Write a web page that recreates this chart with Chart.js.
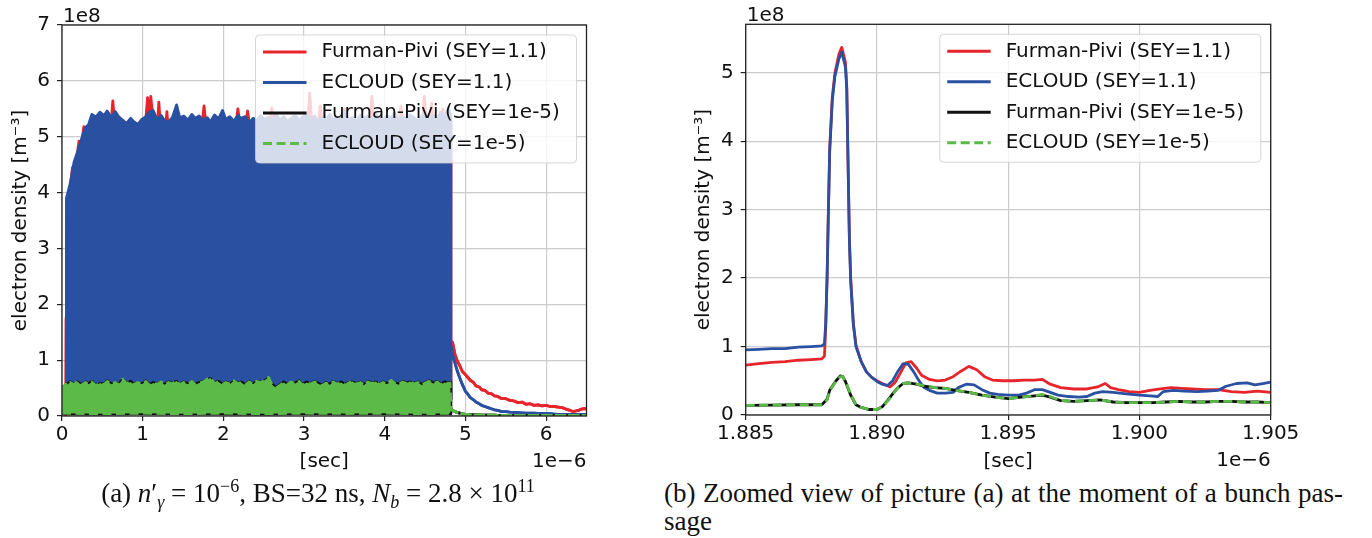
<!DOCTYPE html>
<html>
<head>
<meta charset="utf-8">
<script src="https://cdn.jsdelivr.net/npm/chart.js"></script>
<style>
  body { margin: 0; background: #fff; }
  #wrap { position: relative; width: 1372px; height: 538px; overflow: hidden; }
  canvas { position: absolute; top: 0; }
  .cap { position: absolute; font-family: "Liberation Serif", serif; font-size: 27px; line-height: 28px; color: #111; }
  .cap i { font-style: italic; }
  .cap sup, .cap sub { font-size: 18px; line-height: 0; }
</style>
</head>
<body>
<div id="wrap">
  <canvas id="chartA" width="660" height="478" style="left:0;width:660px;height:478px"></canvas>
  <canvas id="chartB" width="692" height="478" style="left:680px;width:692px;height:478px"></canvas>
  <div class="cap" style="left:8px;top:479px;width:620px;text-align:center">(a) <i>n</i>′<sub><i>γ</i></sub> = 10<sup>−6</sup>, BS=32 ns, <i>N<sub>b</sub></i> = 2.8 × 10<sup>11</sup></div>
  <div class="cap" style="left:664px;top:479px;width:679px">
    <div style="text-align:justify;text-align-last:justify">(b) Zoomed view of picture (a) at the moment of a bunch pas-</div>
    <div>sage</div>
  </div>
</div>
<script>
// ---- (a) whole bunch train: x in 1e-6 s, y in 1e8 m^-3 ----
// the signal oscillates faster than a pixel, so it is kept as upper/lower envelopes
const tBand = [
  0.00, 0.02, 0.05, 0.055, 0.10, 0.15, 0.19, 0.24, 0.29, 0.33,
  0.37, 0.42, 0.47, 0.52, 0.56, 0.61, 0.66, 0.70, 0.75, 0.80,
  0.85, 0.89, 0.94, 0.99, 1.04, 1.08, 1.13, 1.18, 1.23, 1.27,
  1.32, 1.37, 1.42, 1.46, 1.51, 1.56, 1.61, 1.65, 1.70, 1.75,
  1.80, 1.84, 1.89, 1.94, 1.99, 2.03, 2.08, 2.13, 2.18, 2.22,
  2.27, 2.32, 2.37, 2.41, 2.46, 2.51, 2.56, 2.60, 2.65, 2.70,
  2.75, 2.79, 2.84, 2.89, 2.94, 2.98, 3.03, 3.08, 3.13, 3.17,
  3.22, 3.27, 3.32, 3.36, 3.41, 3.46, 3.51, 3.55, 3.60, 3.65,
  3.70, 3.74, 3.79, 3.84, 3.89, 3.93, 3.98, 4.03, 4.08, 4.12,
  4.17, 4.22, 4.27, 4.31, 4.36, 4.41, 4.46, 4.50, 4.55, 4.60,
  4.65, 4.69, 4.74, 4.79, 4.81
];
const ecHiA = [
  0.30, 0.30, 0.30, 3.90, 4.15, 4.55, 4.72, 4.95, 5.16, 5.22,
  5.40, 5.35, 5.44, 5.38, 5.46, 5.34, 5.45, 5.36, 5.30, 5.24,
  5.33, 5.27, 5.22, 5.31, 5.36, 5.44, 5.47, 5.30, 5.38, 5.29,
  5.26, 5.35, 5.57, 5.34, 5.37, 5.30, 5.40, 5.33, 5.37, 5.29,
  5.34, 5.27, 5.39, 5.32, 5.47, 5.31, 5.36, 5.28, 5.38, 5.33,
  5.36, 5.25, 5.33, 5.28, 5.38, 5.31, 5.35, 5.27, 5.41, 5.30,
  5.36, 5.28, 5.33, 5.38, 5.29, 5.35, 5.42, 5.30, 5.37, 5.27,
  5.34, 5.31, 5.40, 5.29, 5.36, 5.32, 5.45, 5.30, 5.35, 5.28,
  5.39, 5.33, 5.37, 5.29, 5.41, 5.34, 5.30, 5.38, 5.32, 5.43,
  5.29, 5.36, 5.31, 5.39, 5.34, 5.28, 5.37, 5.42, 5.33, 5.38,
  5.30, 5.44, 5.35, 5.52, 5.40
];
const ec5HiA = [
  0.45, 0.52, 0.57, 0.55, 0.60, 0.56, 0.62, 0.55, 0.60, 0.57,
  0.61, 0.54, 0.59, 0.56, 0.62, 0.57, 0.60, 0.55, 0.66, 0.58,
  0.61, 0.56, 0.60, 0.57, 0.62, 0.55, 0.59, 0.57, 0.61, 0.56,
  0.60, 0.58, 0.63, 0.56, 0.60, 0.57, 0.62, 0.56, 0.59, 0.61,
  0.66, 0.68, 0.58, 0.61, 0.56, 0.60, 0.57, 0.63, 0.58, 0.60,
  0.55, 0.61, 0.57, 0.62, 0.60, 0.64, 0.69, 0.57, 0.50, 0.55,
  0.60, 0.56, 0.61, 0.58, 0.62, 0.55, 0.60, 0.57, 0.61, 0.58,
  0.54, 0.59, 0.56, 0.61, 0.57, 0.60, 0.55, 0.59, 0.62, 0.57,
  0.60, 0.55, 0.61, 0.58, 0.62, 0.56, 0.60, 0.57, 0.64, 0.59,
  0.56, 0.61, 0.58, 0.62, 0.57, 0.60, 0.55, 0.59, 0.62, 0.58,
  0.61, 0.56, 0.60, 0.58, 0.59
];
const fp5HiA = [
  0.46, 0.53, 0.56, 0.57, 0.61, 0.57, 0.61, 0.56, 0.61, 0.58,
  0.62, 0.55, 0.58, 0.57, 0.63, 0.58, 0.59, 0.56, 0.65, 0.59,
  0.62, 0.57, 0.59, 0.58, 0.63, 0.56, 0.60, 0.58, 0.60, 0.57,
  0.61, 0.59, 0.62, 0.57, 0.61, 0.58, 0.61, 0.57, 0.60, 0.62,
  0.65, 0.67, 0.59, 0.62, 0.57, 0.61, 0.58, 0.62, 0.59, 0.61,
  0.56, 0.62, 0.58, 0.61, 0.61, 0.63, 0.68, 0.58, 0.51, 0.56,
  0.61, 0.57, 0.60, 0.59, 0.63, 0.56, 0.61, 0.58, 0.62, 0.59,
  0.55, 0.60, 0.57, 0.62, 0.58, 0.61, 0.56, 0.60, 0.61, 0.58,
  0.61, 0.56, 0.62, 0.59, 0.61, 0.57, 0.61, 0.58, 0.63, 0.60,
  0.57, 0.62, 0.59, 0.61, 0.58, 0.61, 0.56, 0.60, 0.63, 0.59,
  0.62, 0.57, 0.61, 0.59, 0.60
];
// Furman-Pivi SEY=1.1 upper envelope (only its peaks show above ECLOUD)
const tRedA = [
  0.045, 0.05, 0.055, 0.065, 0.10, 0.13, 0.17, 0.21, 0.24, 0.27,
  0.30, 0.60, 0.63, 0.66, 1.03, 1.06, 1.08, 1.10, 1.13, 1.18,
  1.20, 1.22, 1.28, 1.30, 1.32, 1.73, 1.76, 1.79, 2.15, 2.18,
  2.21, 2.27, 2.30, 2.33, 2.57, 2.60, 2.63, 3.04, 3.07, 3.10,
  3.17, 3.20, 3.23, 3.47, 3.50, 3.53, 3.81, 3.84, 3.87, 4.17,
  4.20, 4.23, 4.46, 4.49, 4.52, 4.55, 4.58, 4.61, 4.69, 4.72,
  4.75, 4.81
];
const fpHiA = [
  0.00, 1.75, 2.95, 3.85, 4.05, 4.45, 4.45, 4.92, 4.85, 5.18,
  5.05, 5.10, 5.64, 5.12, 5.15, 5.70, 5.40, 5.72, 5.30, 5.15,
  5.62, 5.20, 5.10, 5.45, 5.10, 5.15, 5.55, 5.15, 5.15, 5.50,
  5.15, 5.15, 5.46, 5.15, 5.15, 5.52, 5.15, 5.15, 5.78, 5.15,
  5.15, 5.55, 5.15, 5.15, 5.50, 5.15, 5.15, 5.72, 5.15, 5.15,
  5.55, 5.15, 5.15, 5.72, 5.15, 5.15, 5.60, 5.15, 5.15, 5.50,
  5.15, 5.30
];
// lower envelopes (minima between bunches)
const tLowA = [0.00, 0.50, 1.00, 1.50, 2.00, 2.50, 3.00, 3.50, 4.00, 4.50, 4.81];
const fpLoA  = [0.30, 0.31, 0.29, 0.30, 0.32, 0.30, 0.29, 0.31, 0.30, 0.30, 0.31];
const ecLoA  = [0.30, 0.29, 0.31, 0.30, 0.30, 0.31, 0.30, 0.29, 0.31, 0.30, 0.30];
const fp5LoA = [0.04, 0.035, 0.045, 0.04, 0.04, 0.035, 0.045, 0.04, 0.045, 0.035, 0.04];
const ec5LoA = [0.05, 0.04, 0.05, 0.04, 0.05, 0.04, 0.05, 0.045, 0.05, 0.04, 0.05];
// decay after the last bunch
const tTail = [
  4.82, 4.84, 4.87, 4.90, 4.93, 4.96, 5.00, 5.03, 5.06, 5.10,
  5.13, 5.17, 5.20, 5.24, 5.28, 5.32, 5.36, 5.40, 5.45, 5.50,
  5.55, 5.60, 5.65, 5.70, 5.75, 5.80, 5.85, 5.90, 5.95, 6.00,
  6.05, 6.10, 6.15, 6.20, 6.25, 6.30, 6.33, 6.37, 6.40, 6.43,
  6.46, 6.50
];
const fpTail = [
  1.28, 1.32, 1.10, 0.98, 0.90, 0.80, 0.74, 0.69, 0.64, 0.60,
  0.54, 0.52, 0.47, 0.46, 0.41, 0.40, 0.36, 0.35, 0.31, 0.31,
  0.28, 0.27, 0.24, 0.25, 0.21, 0.22, 0.19, 0.20, 0.18, 0.19,
  0.17, 0.17, 0.16, 0.15, 0.12, 0.10, 0.08, 0.09, 0.10, 0.12,
  0.13, 0.13
];
const ecTail = [
  1.25, 1.10, 0.95, 0.80, 0.68, 0.57, 0.44, 0.39, 0.33, 0.29,
  0.25, 0.22, 0.19, 0.17, 0.15, 0.13, 0.11, 0.10, 0.08, 0.08,
  0.07, 0.065, 0.06, 0.055, 0.05, 0.05, 0.05, 0.045, 0.045, 0.04,
  0.04, 0.035, 0.03, 0.03, 0.03, 0.03, 0.03, 0.03, 0.03, 0.03,
  0.03, 0.03
];
const fp5Tail = [
  0.13, 0.10, 0.08, 0.06, 0.05, 0.04, 0.03, 0.03, 0.02, 0.02,
  0.02, 0.02, 0.015, 0.015, 0.015, 0.015, 0.015, 0.01, 0.01, 0.01,
  0.01, 0.01, 0.01, 0.01, 0.01, 0.01, 0.01, 0.01, 0.01, 0.01,
  0.01, 0.01, 0.01, 0.01, 0.01, 0.01, 0.01, 0.01, 0.01, 0.01,
  0.01, 0.01
];
const ec5Tail = [
  0.12, 0.10, 0.08, 0.06, 0.05, 0.04, 0.03, 0.03, 0.02, 0.02,
  0.02, 0.02, 0.015, 0.015, 0.015, 0.015, 0.015, 0.01, 0.01, 0.01,
  0.01, 0.01, 0.01, 0.01, 0.01, 0.01, 0.01, 0.01, 0.01, 0.01,
  0.01, 0.01, 0.01, 0.01, 0.01, 0.01, 0.01, 0.01, 0.01, 0.01,
  0.01, 0.01
];

// ---- (b) zoom on one bunch passage ----
const tFpB = [
  1.8850, 1.8855, 1.8860, 1.8865, 1.8870, 1.8875, 1.8879, 1.8880, 1.88805, 1.8881,
  1.88815, 1.8882, 1.8883, 1.8884, 1.88855, 1.88866, 1.8888, 1.88885, 1.8889, 1.88895,
  1.8890, 1.8891, 1.8892, 1.8894, 1.8896, 1.8898, 1.8900, 1.8902, 1.8904, 1.8905,
  1.8907, 1.8909, 1.8911, 1.8913, 1.8915, 1.8917, 1.8920, 1.8923, 1.8926, 1.8929,
  1.8932, 1.8935, 1.8938, 1.8941, 1.8944, 1.8948, 1.8952, 1.8956, 1.8960, 1.8963,
  1.8966, 1.8970, 1.8975, 1.8980, 1.8984, 1.8987, 1.8989, 1.8992, 1.8996, 1.9000,
  1.9004, 1.9008, 1.9012, 1.9016, 1.9020, 1.9025, 1.9030, 1.9035, 1.9040, 1.9045,
  1.9050
];
const fpB = [
  0.73, 0.75, 0.77, 0.78, 0.80, 0.81, 0.82, 0.86, 1.30, 2.00,
  3.00, 3.90, 4.65, 5.00, 5.27, 5.37, 5.15, 4.80, 3.70, 2.60,
  2.00, 1.35, 1.02, 0.78, 0.63, 0.55, 0.50, 0.46, 0.43, 0.41,
  0.48, 0.62, 0.76, 0.78, 0.69, 0.58, 0.52, 0.50, 0.51, 0.56,
  0.64, 0.71, 0.66, 0.56, 0.51, 0.50, 0.50, 0.51, 0.51, 0.52,
  0.45, 0.40, 0.38, 0.38, 0.41, 0.46, 0.40, 0.37, 0.34, 0.33,
  0.36, 0.38, 0.40, 0.39, 0.38, 0.37, 0.37, 0.34, 0.33, 0.35,
  0.33
];
const tEcB = [
  1.8850, 1.8855, 1.8860, 1.8865, 1.8870, 1.8875, 1.8879, 1.8880, 1.88805, 1.8881,
  1.88815, 1.8882, 1.8883, 1.8884, 1.88855, 1.88866, 1.8888, 1.88885, 1.8889, 1.88895,
  1.8890, 1.8891, 1.8892, 1.8894, 1.8896, 1.8898, 1.8900, 1.8902, 1.8904, 1.8906,
  1.8908, 1.8910, 1.8912, 1.8914, 1.8916, 1.8918, 1.8920, 1.8923, 1.8926, 1.8929,
  1.8931, 1.8934, 1.8937, 1.8940, 1.8943, 1.8946, 1.8950, 1.8954, 1.8957, 1.8960,
  1.8963, 1.8966, 1.8969, 1.8973, 1.8977, 1.8980, 1.8983, 1.8986, 1.8990, 1.8995,
  1.9000, 1.9004, 1.9007, 1.9009, 1.9013, 1.9017, 1.9022, 1.9026, 1.9030, 1.9033,
  1.9037, 1.9041, 1.9044, 1.9047, 1.9050
];
const ecB = [
  0.95, 0.96, 0.97, 0.97, 0.99, 1.00, 1.01, 1.04, 1.35, 2.00,
  2.95, 3.85, 4.60, 4.95, 5.20, 5.30, 5.08, 4.75, 3.65, 2.55,
  1.95, 1.32, 1.00, 0.78, 0.63, 0.55, 0.49, 0.45, 0.43, 0.50,
  0.64, 0.75, 0.74, 0.63, 0.50, 0.40, 0.36, 0.32, 0.32, 0.33,
  0.40, 0.45, 0.44, 0.37, 0.32, 0.30, 0.29, 0.29, 0.32, 0.37,
  0.37, 0.33, 0.29, 0.27, 0.26, 0.27, 0.32, 0.34, 0.33, 0.31,
  0.29, 0.28, 0.27, 0.34, 0.36, 0.35, 0.34, 0.35, 0.36, 0.42,
  0.46, 0.47, 0.44, 0.46, 0.48
];
const t5B = [
  1.8850, 1.8860, 1.8870, 1.8879, 1.8881, 1.8882, 1.8884, 1.8886, 1.8887, 1.8888,
  1.8890, 1.8892, 1.8894, 1.8897, 1.8900, 1.8902, 1.8904, 1.8906, 1.8908, 1.8910,
  1.8912, 1.8915, 1.8918, 1.8922, 1.8926, 1.8930, 1.8935, 1.8940, 1.8945, 1.8950,
  1.8955, 1.8960, 1.8963, 1.8966, 1.8970, 1.8975, 1.8980, 1.8985, 1.8990, 1.8995,
  1.9000, 1.9005, 1.9010, 1.9015, 1.9020, 1.9025, 1.9030, 1.9035, 1.9040, 1.9045,
  1.9050
];
const fp5B = [
  0.14, 0.145, 0.15, 0.15, 0.23, 0.36, 0.48, 0.57, 0.56, 0.49,
  0.29, 0.15, 0.11, 0.08, 0.08, 0.12, 0.21, 0.31, 0.40, 0.46,
  0.47, 0.45, 0.42, 0.40, 0.39, 0.36, 0.33, 0.29, 0.26, 0.24,
  0.26, 0.28, 0.29, 0.26, 0.21, 0.20, 0.21, 0.22, 0.19, 0.18,
  0.18, 0.18, 0.19, 0.20, 0.19, 0.19, 0.20, 0.20, 0.19, 0.19,
  0.18
];
const ec5B = [
  0.14, 0.145, 0.15, 0.15, 0.22, 0.35, 0.47, 0.56, 0.56, 0.50,
  0.30, 0.15, 0.11, 0.08, 0.08, 0.12, 0.20, 0.30, 0.40, 0.46,
  0.47, 0.45, 0.43, 0.40, 0.39, 0.36, 0.33, 0.29, 0.26, 0.24,
  0.26, 0.28, 0.30, 0.27, 0.21, 0.20, 0.21, 0.22, 0.19, 0.18,
  0.18, 0.18, 0.19, 0.20, 0.19, 0.19, 0.20, 0.20, 0.19, 0.19,
  0.18
];

const xTicksA = [0, 1, 2, 3, 4, 5, 6];
const yTicksA = [0, 1, 2, 3, 4, 5, 6, 7];
const xTicksB = [1.885, 1.890, 1.895, 1.900, 1.905];
const yTicksB = [0, 1, 2, 3, 4, 5];
const seriesNames = ['Furman-Pivi (SEY=1.1)', 'ECLOUD (SEY=1.1)', 'Furman-Pivi (SEY=1e-5)', 'ECLOUD (SEY=1e-5)'];

// styles
const RED = '#e8242b', BLUE = '#2a50a2', BLACK = '#111111', GREEN = '#5cbb48';
const DASH = [9, 4.5];
const FONT = '"DejaVu Sans", sans-serif';
const legendItems = [
  { text: seriesNames[0], color: RED },
  { text: seriesNames[1], color: BLUE },
  { text: seriesNames[2], color: BLACK },
  { text: seriesNames[3], color: GREEN, dash: DASH }
];

const xy = (xs, ys) => xs.map((x, i) => ({ x: x, y: ys[i] }));

// frame, offset texts (1e8, 1e-6) and a matplotlib-like legend inside the axes
const mplDecor = {
  id: 'mplDecor',
  afterDatasetsDraw(chart, args, o) {
    const { ctx, chartArea: a } = chart;
    ctx.save();
    ctx.strokeStyle = '#222';
    ctx.lineWidth = 1.3;
    ctx.strokeRect(a.left, a.top, a.right - a.left, a.bottom - a.top);

    ctx.fillStyle = '#111';
    ctx.font = '20px ' + FONT;
    ctx.textBaseline = 'alphabetic';
    ctx.textAlign = 'left';
    ctx.fillText('1e8', a.left + 1, a.top - 3.5);
    ctx.textAlign = 'right';
    ctx.fillText('1e\u22126', a.right, a.bottom + 51);

    const bw = 321, bh = 128, r = 4;
    const bx = a.right - 10 - bw, by = a.top + 10;
    ctx.beginPath();
    ctx.moveTo(bx + r, by);
    ctx.arcTo(bx + bw, by, bx + bw, by + bh, r);
    ctx.arcTo(bx + bw, by + bh, bx, by + bh, r);
    ctx.arcTo(bx, by + bh, bx, by, r);
    ctx.arcTo(bx, by, bx + bw, by, r);
    ctx.closePath();
    ctx.fillStyle = 'rgba(255,255,255,0.8)';
    ctx.fill();
    ctx.strokeStyle = 'rgba(204,204,204,0.8)';
    ctx.lineWidth = 1;
    ctx.stroke();

    o.items.forEach((it, i) => {
      const y = by + 17 + i * 30.5;
      ctx.beginPath();
      ctx.setLineDash(it.dash || []);
      ctx.strokeStyle = it.color;
      ctx.lineWidth = 3;
      ctx.moveTo(bx + 7.5, y);
      ctx.lineTo(bx + 51, y);
      ctx.stroke();
      ctx.setLineDash([]);
      ctx.fillStyle = '#111';
      ctx.textAlign = 'left';
      ctx.textBaseline = 'middle';
      ctx.fillText(it.text, bx + 66, y);
    });
    ctx.restore();
  }
};

function scales(xMin, xMax, yMax, xTicks, yTicks, yWidth, xHeight, yTitlePad, fmt) {
  const grid = { color: '#cccccc', lineWidth: 1.2, tickLength: 5, tickColor: '#222', tickWidth: 1.2 };
  const tickFont = { family: FONT, size: 20 };
  return {
    x: {
      type: 'linear', min: xMin, max: xMax,
      grid: grid, border: { display: false },
      afterBuildTicks: s => { s.ticks = xTicks.map(v => ({ value: v })); },
      afterFit: s => { s.height = xHeight; },
      ticks: { font: tickFont, color: '#111', padding: 2, maxRotation: 0, autoSkip: false, callback: fmt },
      title: { display: true, text: '[sec]', font: tickFont, color: '#111', padding: { top: 0, bottom: 4 } }
    },
    y: {
      min: 0, max: yMax,
      grid: grid, border: { display: false },
      afterBuildTicks: s => { s.ticks = yTicks.map(v => ({ value: v })); },
      afterFit: s => { s.width = yWidth; },
      ticks: { font: tickFont, color: '#111', padding: 7, callback: v => String(v) },
      title: { display: true, text: 'electron density [m\u207B\u00B3]', font: tickFont, color: '#111', padding: { top: yTitlePad, bottom: 0 } }
    }
  };
}

const baseOptions = {
  responsive: false,
  animation: false,
  events: [],
  elements: {
    point: { radius: 0 },
    line: { borderWidth: 2.8, tension: 0, borderJoinStyle: 'round', borderCapStyle: 'butt' }
  }
};

// a band = upper envelope filled down to the lower envelope, both ending in the same decay curve
function band(hiX, hiY, loX, loY, tailY, color, order, dash) {
  return [
    { data: xy(hiX, hiY).concat(xy(tTail, tailY)), borderColor: color, backgroundColor: color,
      fill: '+1', order: order, borderDash: dash || [] },
    { data: xy(loX, loY).concat(xy(tTail, tailY)), borderColor: color, backgroundColor: color,
      fill: false, order: order, borderDash: dash || [] }
  ];
}

new Chart(document.getElementById('chartA'), {
  type: 'line',
  data: {
    datasets: [
      ...band(tBand, ec5HiA, tLowA, ec5LoA, ec5Tail, GREEN, 0, DASH),
      ...band(tBand, fp5HiA, tLowA, fp5LoA, fp5Tail, BLACK, 1),
      ...band(tBand, ecHiA, tLowA, ecLoA, ecTail, BLUE, 2),
      ...band(tRedA, fpHiA, tLowA, fpLoA, fpTail, RED, 3)
    ]
  },
  options: Object.assign({}, baseOptions, {
    layout: { padding: { left: 0, top: 25, right: 73.5, bottom: 0 } },
    scales: scales(0, 6.5, 7, xTicksA, yTicksA, 62, 62, 9, v => String(v)),
    plugins: { legend: { display: false }, tooltip: { enabled: false }, mplDecor: { items: legendItems } }
  }),
  plugins: [mplDecor]
});

new Chart(document.getElementById('chartB'), {
  type: 'line',
  data: {
    datasets: [
      { data: xy(t5B, ec5B), borderColor: GREEN, borderDash: DASH, order: 0 },
      { data: xy(t5B, fp5B), borderColor: BLACK, order: 1 },
      { data: xy(tEcB, ecB), borderColor: BLUE, order: 2 },
      { data: xy(tFpB, fpB), borderColor: RED, order: 3 }
    ]
  },
  options: Object.assign({}, baseOptions, {
    layout: { padding: { left: 0, top: 24.3, right: 101.3, bottom: 0 } },
    scales: scales(1.885, 1.905, 5.707, xTicksB, yTicksB, 65.7, 63, 12, v => v.toFixed(3)),
    plugins: { legend: { display: false }, tooltip: { enabled: false }, mplDecor: { items: legendItems } }
  }),
  plugins: [mplDecor]
});
</script>
</body>
</html>
